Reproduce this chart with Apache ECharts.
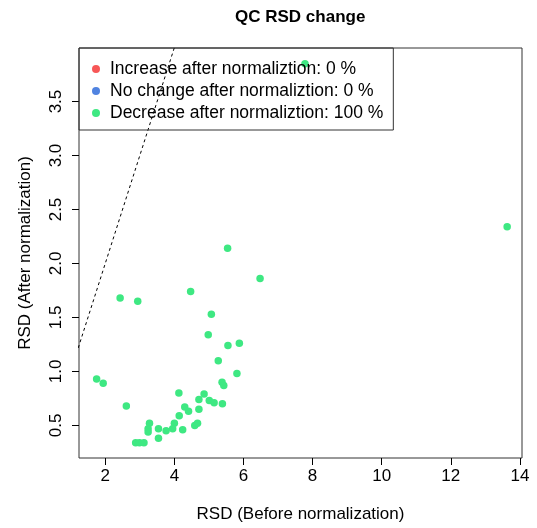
<!DOCTYPE html>
<html>
<head>
<meta charset="utf-8">
<title>QC RSD change</title>
<script src="https://cdn.jsdelivr.net/npm/echarts@6/dist/echarts.min.js"></script>
<style>
html, body { margin: 0; padding: 0; background: #fff; }
#chart { width: 537px; height: 528px; }
</style>
</head>
<body>
<div id="chart"></div>
<script>
// QC RSD 变化 (before vs after normalization)
var rsdBefore = [5.54, 6.48, 2.43, 2.94, 4.47, 5.07, 4.98, 5.55, 5.88, 5.27, 5.81, 1.75, 1.94, 2.61,
    5.38, 5.43, 4.13, 4.86, 4.71, 5.01, 5.15, 5.39, 4.30, 4.41, 4.71, 4.14, 4.00, 3.95, 4.24, 4.59,
    4.67, 3.28, 3.24, 3.24, 3.54, 3.76, 3.54, 2.88, 2.99, 3.12, 7.78, 13.63];
var rsdAfter = [2.14, 1.86, 1.68, 1.65, 1.74, 1.53, 1.34, 1.24, 1.26, 1.10, 0.98, 0.93, 0.89, 0.68,
    0.90, 0.87, 0.80, 0.79, 0.74, 0.73, 0.71, 0.70, 0.67, 0.63, 0.65, 0.59, 0.52, 0.47, 0.46, 0.50,
    0.52, 0.52, 0.47, 0.44, 0.47, 0.45, 0.38, 0.34, 0.34, 0.34, 3.85, 2.34];

// 图例文字
var legendNames = ['Increase after normaliztion: 0 %', 'No change after normaliztion: 0 %', 'Decrease after normaliztion: 100 %'];
var legendColors = ['#f52d2d', '#2464d8', '#3ee882'];

// 刻度
var xTicks = [2, 4, 6, 8, 10, 12, 14];
var yTicks = [0.5, 1.0, 1.5, 2.0, 2.5, 3.0, 3.5];

// y = x 参考线
var diagLine = [[0, 0], [15, 15]];

var font = 'Liberation Sans, Arial, sans-serif';

var points = [];
for (var i = 0; i < rsdBefore.length; i++) {
    points.push([rsdBefore[i], rsdAfter[i]]);
}

var myChart = echarts.init(document.getElementById('chart'));
var option = {
    animation: false,
    textStyle: { fontFamily: font, color: '#000' },
    title: {
        text: 'QC RSD change',
        left: 235,
        top: 9,
        padding: 0,
        textStyle: { fontFamily: font, fontSize: 17, fontWeight: 'bold', color: '#000' }
    },
    legend: {
        orient: 'vertical',
        left: 79,
        top: 48,
        padding: [12, 10, 8, 13],
        itemGap: 4,
        // 圆点居中在宽图标框里, 让文字离圆点远一点
        itemWidth: 18,
        itemHeight: 8,
        icon: 'circle',
        borderColor: '#333',
        borderWidth: 1,
        selectedMode: false,
        textStyle: { fontFamily: font, fontSize: 17.5, lineHeight: 17, color: '#000' },
        data: legendNames
    },
    grid: {
        left: 79,
        right: 15,
        top: 48,
        bottom: 69,
        show: true,
        borderColor: '#333',
        borderWidth: 1
    },
    xAxis: {
        type: 'value',
        min: 1.24,
        max: 14.06,
        name: 'RSD (Before normalization)',
        nameLocation: 'middle',
        nameGap: 48,
        nameTextStyle: { fontFamily: font, fontSize: 17, color: '#000' },
        axisLine: { show: false },
        splitLine: { show: false },
        axisTick: { show: true, length: 7, customValues: xTicks, lineStyle: { color: '#000' } },
        axisLabel: { margin: 10, fontSize: 17, color: '#000', customValues: xTicks }
    },
    yAxis: {
        type: 'value',
        min: 0.198,
        max: 3.996,
        name: 'RSD (After normalization)',
        nameLocation: 'middle',
        nameGap: 45,
        nameTextStyle: { fontFamily: font, fontSize: 17, color: '#000' },
        axisLine: { show: false },
        splitLine: { show: false },
        axisTick: { show: true, length: 7, customValues: yTicks, lineStyle: { color: '#000' } },
        axisLabel: {
            margin: 14, fontSize: 17, color: '#000', rotate: 90,
            customValues: yTicks,
            formatter: function (v) { return v.toFixed(1); }
        }
    },
    series: [
        {
            name: legendNames[0], type: 'scatter', symbolSize: 7.5,
            itemStyle: { color: legendColors[0] }, data: []
        },
        {
            name: legendNames[1], type: 'scatter', symbolSize: 7.5,
            itemStyle: { color: legendColors[1] }, data: []
        },
        {
            name: legendNames[2], type: 'scatter', symbolSize: 7.5,
            itemStyle: { color: legendColors[2], opacity: 1 }, data: points
        },
        {
            type: 'line', data: diagLine, symbol: 'none', silent: true, clip: true,
            lineStyle: { color: '#000', width: 1, type: [3, 3] }
        }
    ]
};
myChart.setOption(option);
</script>
</body>
</html>
